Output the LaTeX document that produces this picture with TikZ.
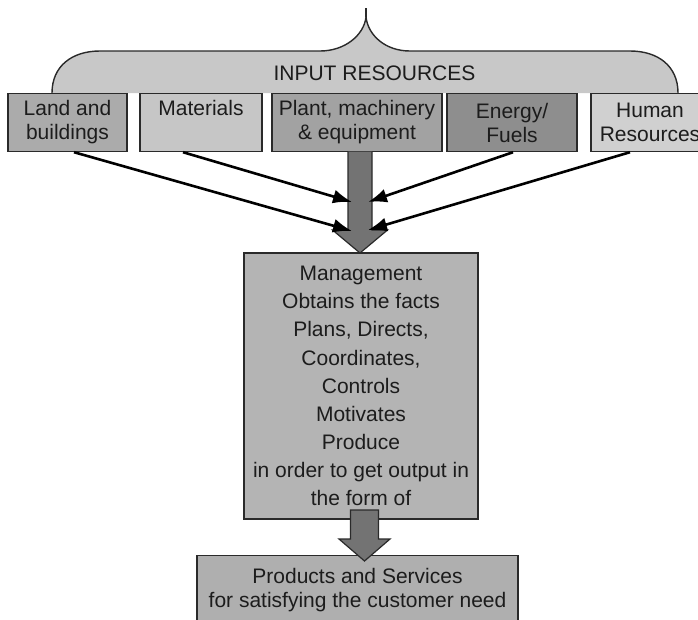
\documentclass[tikz,border=0pt]{standalone}
\usepackage{fontspec}
\setmainfont{Liberation Sans}
\usetikzlibrary{arrows.meta,calc}
\definecolor{edgegray}{HTML}{2A2A2A}
\definecolor{txtgray}{HTML}{1C1C1C}
\definecolor{bracegray}{HTML}{C8C8C8}
\definecolor{landgray}{HTML}{ABABAB}
\definecolor{matgray}{HTML}{C6C6C6}
\definecolor{plantgray}{HTML}{A2A2A2}
\definecolor{energygray}{HTML}{8E8E8E}
\definecolor{humangray}{HTML}{D0D0D0}
\definecolor{mgmtgray}{HTML}{B4B4B4}
\definecolor{prodgray}{HTML}{AFAFAF}
\definecolor{fatgray}{HTML}{737373}
\begin{document}
\begin{tikzpicture}[x=1pt,y=-1pt,
  box/.style={draw=edgegray, line width=1.4pt, align=center, inner sep=0pt,
    text=txtgray, font=\fontsize{21}{24}\selectfont},
  resbox/.style={box, minimum height=58pt},
  edgeline/.style={draw=edgegray, line width=1.4pt},
  fatarrow/.style={fill=fatgray, draw=edgegray, line width=1.2pt, line join=miter},
  thinarrow/.style={draw=black, line width=2.6pt, -{Latex[length=19pt,width=14pt]}},
  lbl/.style={text=txtgray, font=\fontsize{21}{24}\selectfont, inner sep=0pt}]
\useasboundingbox (0,0) rectangle (698,619);

% brace
\fill[bracegray] (52,93) .. controls (52,66) and (72,51) .. (100,51) -- (320,51)
  .. controls (345,51) and (364,35) .. (366,17)
  .. controls (368,35) and (385,51) .. (410,51) -- (630,51)
  .. controls (658,51) and (678,66) .. (678,93) -- cycle;
\draw[edgeline] (52,93) .. controls (52,66) and (72,51) .. (100,51) -- (320,51)
  .. controls (345,51) and (364,35) .. (366,17)
  .. controls (368,35) and (385,51) .. (410,51) -- (630,51)
  .. controls (658,51) and (678,66) .. (678,93);
\draw[edgeline] (366,17) -- (366,8);
\node[lbl, anchor=base] (inres) at (374.5,80) {INPUT RESOURCES};

% resource boxes
\node[resbox, fill=landgray, minimum width=119pt] (land) at (67.5,122.5) {Land and\\buildings};
\node[resbox, fill=matgray, minimum width=122pt] (mat) at (201,122.5) {Materials\\\vphantom{g}};
\node[resbox, fill=plantgray, minimum width=170pt] (plant) at (357,122.5) {Plant, machinery\\\&\ equipment};
\node[resbox, fill=energygray, minimum width=130pt] (energy) at (512,122.5) {Energy/\\Fuels};
\node[resbox, fill=humangray, minimum width=118pt] (human) at (650,122.5) {Human\\Resources};

% management
\node[box, fill=mgmtgray, minimum width=234pt, minimum height=266pt,
  font=\fontsize{21}{28.1}\selectfont] (mgmt) at (361,386)
  {Management\\Obtains the facts\\Plans, Directs,\\Coordinates,\\Controls\\Motivates\\Produce\\in order to get output in\\the form of};

% products
\node[box, fill=prodgray, minimum width=321pt, inner ysep=12.7pt, anchor=north,
  font=\fontsize{21}{23.5}\selectfont] (prod) at (357.5,555)
  {Products and Services\\for satisfying the customer need};

% fat arrow from inputs to management
\coordinate (fa1top) at (360,151.5);
\coordinate (fa1tip) at (360,253);
\draw[fatarrow] ($(fa1top)+(-12,0)$) -- ($(fa1tip)+(-12,-23)$) -- ($(fa1tip)+(-27.5,-23)$)
  -- (fa1tip) -- ($(fa1tip)+(27.5,-23)$) -- ($(fa1tip)+(12,-23)$) -- ($(fa1top)+(12,0)$);

% thin arrows
\coordinate (tL1) at (352,231);
\coordinate (tL2) at (352,202);
\coordinate (tR1) at (368,202);
\coordinate (tR2) at (368,230);
\draw[thinarrow] ([xshift=6.5pt]land.south) -- (tL1);
\draw[thinarrow] ([xshift=-18pt]mat.south) -- (tL2);
\draw[thinarrow] ([xshift=1pt]energy.south) -- (tR1);
\draw[thinarrow] ([xshift=-20pt]human.south) -- (tR2);

% fat arrow from management to products
\coordinate (fa2top) at (364.5,510);
\coordinate (fa2tip) at (364.5,561);
\draw[fatarrow] ($(fa2top)+(-14,0)$) -- ($(fa2tip)+(-14,-22)$) -- ($(fa2tip)+(-25.5,-22)$)
  -- (fa2tip) -- ($(fa2tip)+(25.5,-22)$) -- ($(fa2tip)+(14,-22)$) -- ($(fa2top)+(14,0)$) -- cycle;
\end{tikzpicture}
\end{document}
